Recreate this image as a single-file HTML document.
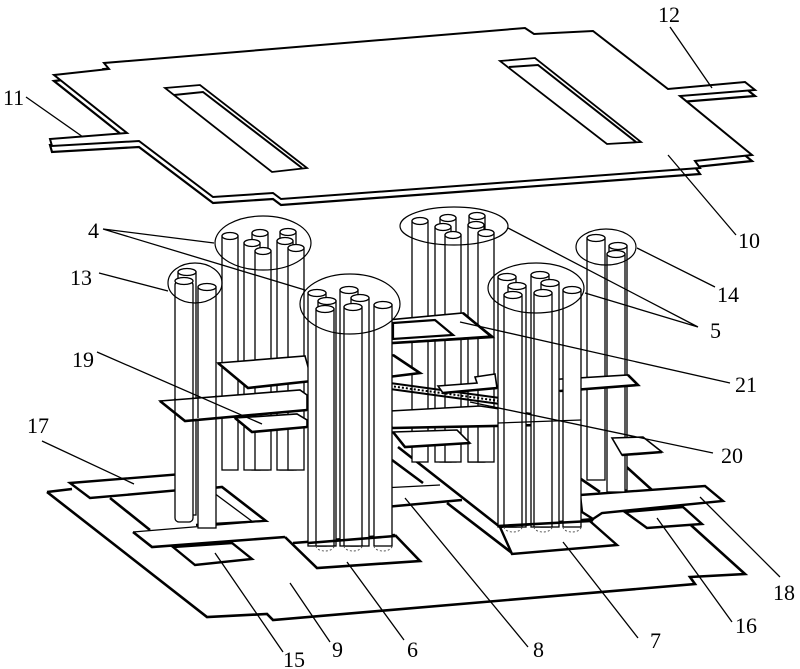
<!DOCTYPE html>
<html><head><meta charset="utf-8"><style>
html,body{margin:0;padding:0;background:#fff;}
svg{display:block;}
.t{font-family:"Liberation Serif",serif;font-size:22px;fill:#000;}
.cy rect,.cy ellipse{fill:#fff;stroke:#000;stroke-width:1.3;}
.pl{fill:#fff;stroke:#000;stroke-width:1.6;stroke-linejoin:miter;}
.pd{fill:#fff;stroke:#000;stroke-width:2.4;}
.th{fill:none;stroke:#000;stroke-width:2.6;}
.tn{fill:none;stroke:#000;stroke-width:1.3;}
.ld{fill:none;stroke:#000;stroke-width:1.3;}
.ds{fill:none;stroke:#555;stroke-width:1;stroke-dasharray:2 2;}
</style></head><body>
<svg width="800" height="669" viewBox="0 0 800 669" xmlns="http://www.w3.org/2000/svg">
<rect width="800" height="669" fill="#fff"/>

<!-- TOP PLATE (10) -->
<polygon transform="translate(0,6)" points="54,75 109,69 104,63 525,28 534,34 593,31 668,89 745,82 755,90 680,96 752,155 695,161 700,168 281,199 273,193 213,197 139,141 52,146 50,139 127,133" fill="#fff" stroke="#000" stroke-width="2.2"/>
<polygon points="54,75 109,69 104,63 525,28 534,34 593,31 668,89 745,82 755,90 680,96 752,155 695,161 700,168 281,199 273,193 213,197 139,141 52,146 50,139 127,133" fill="#fff" stroke="#000" stroke-width="2"/>
<!-- slots -->
<polygon points="165,88 200,85 307,168 272,172" fill="#fff" stroke="#000" stroke-width="1.8"/>
<polyline points="174,95 203,92 302,168" fill="none" stroke="#000" stroke-width="2"/>
<polygon points="500,61 535,58 641,142 607,144" fill="#fff" stroke="#000" stroke-width="1.8"/>
<polyline points="509,67 538,65 636,142" fill="none" stroke="#000" stroke-width="2"/>

<!-- BASE PLATE (9) -->
<polygon points="47,492 610,452 745,574 690,577 695,584 273,620 267,614 207,617" fill="#fff" stroke="none"/>
<path class="th" d="M47,492 L207,617 L267,614 L273,620 L695,584 L690,577 L745,574 L610,452 M47,492 L72,489"/>
<!-- pad 17 -->
<polygon class="pd" points="70,483 182,474 192,489 90,498"/>
<!-- frame -->
<path class="th" d="M110,498 L150,530"/>
<path class="th" d="M212,488 L222,487 L266,521 L196,525"/>
<path class="tn" d="M214,493 L253,522"/>
<!-- bar -->
<polygon points="133,532 196,526 266,522 388,527 395,535 293,543 285,537 152,547" fill="#fff" stroke="none"/>
<path class="th" d="M133,532 L152,547 L285,537"/>
<path class="tn" d="M133,532 L266,521" stroke-width="1.6"/>
<!-- pad 6 -->
<polygon points="285,537 317,568 420,561 395,535 293,543" fill="#fff" stroke="none"/>
<path class="th" d="M285,537 L317,568 L420,561 L395,535 M293,543 L395,535"/>
<!-- pad 15 -->
<polygon class="pd" points="173,547 195,565 252,559 232,543"/>
<!-- strip 8 -->
<polygon points="382,488 440,485 462,500 385,507" fill="#fff" stroke="none"/>
<path class="tn" d="M382,488 L440,485" stroke-width="1.8"/>
<path class="th" d="M385,507 L462,500"/>
<!-- diagonal band -->
<path class="th" d="M398,447 L500,527 M392,460 L423,483 M447,503 L512,553"/>
<!-- pad 18 -->
<polygon class="pd" points="580,495 705,486 723,501 602,513 593,519 582,512"/>
<!-- pad 7 -->
<polygon class="pd" points="500,527 593,519 591,522 617,545 512,554"/>
<!-- pad 16 -->
<polygon class="pd" points="625,512 647,528 702,524 683,507"/>
<path class="th" d="M578,477 L600,492"/>

<!-- BACK CYLINDERS: group 5a -->
<g class="cy">
<rect x="469" y="216" width="16" height="246"/><ellipse cx="477" cy="216" rx="8" ry="3.5"/>
<rect x="440" y="218" width="16" height="244"/><ellipse cx="448" cy="218" rx="8" ry="3.5"/>
<rect x="412" y="221" width="16" height="241"/><ellipse cx="420" cy="221" rx="8" ry="3.5"/>
<rect x="468" y="225" width="16" height="237"/><ellipse cx="476" cy="225" rx="8" ry="3.5"/>
<rect x="435" y="227" width="16" height="235"/><ellipse cx="443" cy="227" rx="8" ry="3.5"/>
<rect x="478" y="233" width="16" height="229"/><ellipse cx="486" cy="233" rx="8" ry="3.5"/>
<rect x="445" y="235" width="16" height="227"/><ellipse cx="453" cy="235" rx="8" ry="3.5"/>
</g>
<!-- group 4a -->
<g class="cy">
<rect x="280" y="232" width="16" height="238"/><ellipse cx="288" cy="232" rx="8" ry="3.5"/>
<rect x="252" y="233" width="16" height="237"/><ellipse cx="260" cy="233" rx="8" ry="3.5"/>
<rect x="222" y="236" width="16" height="234"/><ellipse cx="230" cy="236" rx="8" ry="3.5"/>
<rect x="277" y="241" width="16" height="229"/><ellipse cx="285" cy="241" rx="8" ry="3.5"/>
<rect x="244" y="243" width="16" height="227"/><ellipse cx="252" cy="243" rx="8" ry="3.5"/>
<rect x="288" y="248" width="16" height="222"/><ellipse cx="296" cy="248" rx="8" ry="3.5"/>
<rect x="255" y="251" width="16" height="219"/><ellipse cx="263" cy="251" rx="8" ry="3.5"/>
</g>
<!-- group 14 -->
<g class="cy">
<rect x="587" y="238" width="18" height="242"/><ellipse cx="596" cy="238" rx="9" ry="3.5"/>
<rect x="609" y="246" width="18" height="244"/><ellipse cx="618" cy="246" rx="9" ry="3.5"/>
<rect x="607" y="254" width="18" height="238"/><ellipse cx="616" cy="254" rx="9" ry="3.5"/>
</g>

<!-- MIDDLE PLATES -->
<polygon class="pl" points="218,363 305,356 312,381 248,388"/>
<path class="th" d="M218,363 L248,388 L312,381" stroke-width="2.4"/>
<polygon class="pl" points="376,321 463,313 492,336 376,344"/>
<path class="th" d="M376,344 L492,337 L463,313" stroke-width="2.4"/>
<polygon points="393,323 435,320 453,335 393,339" fill="#fff" stroke="#000" stroke-width="2.2"/>
<polygon class="pl" points="378,354 393,355 420,373 378,378"/>
<path class="th" d="M393,355 L420,373 L380,378" stroke-width="2.2"/>
<path d="M390,383 L500,398" stroke="#000" stroke-width="2"/>
<path d="M390,389 L500,404" stroke="#000" stroke-width="2"/>
<path d="M390,386 L500,401" stroke="#000" stroke-width="2" stroke-dasharray="2 2"/>
<polygon class="pl" points="438,386 477,383 475,377 495,374 497,388 443,393"/>
<path class="th" d="M443,393 L497,388" stroke-width="2.2"/>
<polygon class="pl" points="390,411 480,406 540,415 541,425 392,428"/>
<path class="th" d="M392,428 L541,425" stroke-width="2.2"/>
<polygon class="pl" points="393,432 457,430 470,443 405,447"/>
<path class="th" d="M393,432 L405,447 L470,443" stroke-width="2.2"/>
<polygon class="pl" points="545,380 628,375 638,385 560,391"/>
<path class="th" d="M560,391 L638,385 L628,375" stroke-width="2.2"/>
<polygon class="pl" points="612,438 643,437 662,452 622,455"/>
<path class="th" d="M622,455 L662,452" stroke-width="2.2"/>

<!-- group 13 -->
<g class="cy">
<rect x="178" y="272" width="18" height="243"/><ellipse cx="187" cy="272" rx="9" ry="3.5"/>
<rect x="175" y="281" width="18" height="241" rx="4"/><ellipse cx="184" cy="281" rx="9" ry="3.5"/>
<rect x="198" y="287" width="18" height="241"/><ellipse cx="207" cy="287" rx="9" ry="3.5"/>
</g>

<!-- plate 19 + step -->
<polygon class="pl" points="160,401 300,390 307,395 307,410 185,421"/>
<path class="th" d="M160,401 L185,421 L307,410" stroke-width="2.4"/>
<path class="tn" d="M175,398 V420 M193,397 V420 M198,396 V418 M216,395 V417" stroke-width="1.1"/>
<polygon class="pl" points="235,418 297,414 307,420 307,427 252,432"/>
<path class="th" d="M235,418 L252,432 L307,427" stroke-width="2.4"/>

<!-- FRONT CYLINDERS: group 4b -->
<g class="cy">
<rect x="340" y="290" width="18" height="256"/><ellipse cx="349" cy="290" rx="9" ry="3.5"/>
<rect x="308" y="293" width="18" height="253"/><ellipse cx="317" cy="293" rx="9" ry="3.5"/>
<rect x="351" y="298" width="18" height="248"/><ellipse cx="360" cy="298" rx="9" ry="3.5"/>
<rect x="318" y="301" width="18" height="245"/><ellipse cx="327" cy="301" rx="9" ry="3.5"/>
<rect x="374" y="305" width="18" height="241"/><ellipse cx="383" cy="305" rx="9" ry="3.5"/>
<rect x="344" y="307" width="18" height="239"/><ellipse cx="353" cy="307" rx="9" ry="3.5"/>
<rect x="316" y="309" width="18" height="237"/><ellipse cx="325" cy="309" rx="9" ry="3.5"/>
</g>
<!-- group 5b -->
<g class="cy">
<rect x="531" y="275" width="18" height="252"/><ellipse cx="540" cy="275" rx="9" ry="3.5"/>
<rect x="498" y="277" width="18" height="250"/><ellipse cx="507" cy="277" rx="9" ry="3.5"/>
<rect x="541" y="283" width="18" height="244"/><ellipse cx="550" cy="283" rx="9" ry="3.5"/>
<rect x="508" y="286" width="18" height="241"/><ellipse cx="517" cy="286" rx="9" ry="3.5"/>
<rect x="563" y="290" width="18" height="237"/><ellipse cx="572" cy="290" rx="9" ry="3.5"/>
<rect x="534" y="293" width="18" height="234"/><ellipse cx="543" cy="293" rx="9" ry="3.5"/>
<rect x="504" y="295" width="18" height="232"/><ellipse cx="513" cy="295" rx="9" ry="3.5"/>
</g>
<path class="tn" d="M498,423 L581,420" stroke-width="1.8"/>
<!-- dashed bottoms -->
<path class="ds" d="M316,546 a9,5 0 0 0 18,0 M344,546 a9,5 0 0 0 18,0 M374,546 a9,5 0 0 0 18,0"/>
<path class="ds" d="M504,527 a9,5 0 0 0 18,0 M534,527 a9,5 0 0 0 18,0 M563,527 a9,5 0 0 0 18,0"/>
<path class="th" d="M308,543 L395,536" stroke-width="2"/>
<path class="th" d="M498,526 L591,521" stroke-width="2"/>

<!-- group circles -->
<g fill="none" stroke="#000" stroke-width="1.2">
<ellipse cx="263" cy="243" rx="48" ry="27"/>
<ellipse cx="195" cy="283" rx="27" ry="20"/>
<ellipse cx="350" cy="304" rx="50" ry="30"/>
<ellipse cx="454" cy="226" rx="54" ry="19"/>
<ellipse cx="536" cy="288" rx="48" ry="25"/>
<ellipse cx="606" cy="247" rx="30" ry="18"/>
</g>

<!-- leaders -->
<path class="ld" d="M26,97 L83,137
M670,27 L712,88
M668,155 L736,235
M103,229 L214,243 M103,229 L305,290
M99,273 L168,291
M715,287 L637,248
M698,327 L508,228 M698,327 L585,293
M460,322 L730,383
M97,352 L262,424
M42,441 L134,484
M470,402 L713,453
M780,577 L700,497
M732,622 L657,518
M638,638 L563,542
M528,647 L405,498
M404,640 L347,562
M330,642 L290,583
M283,652 L215,553"/>

<!-- labels -->
<text class="t" x="3" y="105">11</text>
<text class="t" x="658" y="22">12</text>
<text class="t" x="738" y="248">10</text>
<text class="t" x="88" y="238">4</text>
<text class="t" x="70" y="285">13</text>
<text class="t" x="717" y="302">14</text>
<text class="t" x="710" y="338">5</text>
<text class="t" x="72" y="367">19</text>
<text class="t" x="735" y="392">21</text>
<text class="t" x="27" y="433">17</text>
<text class="t" x="721" y="463">20</text>
<text class="t" x="773" y="600">18</text>
<text class="t" x="735" y="633">16</text>
<text class="t" x="650" y="648">7</text>
<text class="t" x="533" y="657">8</text>
<text class="t" x="407" y="657">6</text>
<text class="t" x="332" y="657">9</text>
<text class="t" x="283" y="667">15</text>
</svg>
</body></html>
